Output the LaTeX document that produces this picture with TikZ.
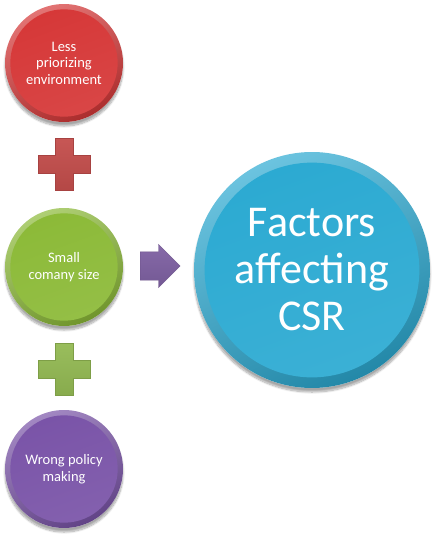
\documentclass[tikz,border=0pt]{standalone}
\usepackage{fontspec}
\setmainfont{Carlito}
\usetikzlibrary{shapes.arrows,shadows.blur}
\definecolor{cred}{RGB}{214,56,56}
\definecolor{cgreen}{RGB}{140,186,56}
\definecolor{cpurple}{RGB}{122,84,168}
\definecolor{cblue}{RGB}{44,170,210}
\definecolor{plusred}{RGB}{196,78,76}
\definecolor{plusgreen}{RGB}{148,186,84}
\definecolor{arrowpurple}{RGB}{128,98,164}
\newcommand\drawbutton[6]{% name, position, radius, colour, text, font
  \path[fill=white,blur shadow={shadow xshift=0pt,shadow yshift=-4pt,shadow opacity=35,shadow blur steps=10}] (#2) circle (#3);
  \shade[top color=#4!70!white, bottom color=#4!80!black, shading angle=25] (#2) circle (#3);
  \shade[top color=#4, bottom color=#4!93!white, shading angle=20] (#2) circle (0.91*#3);
  \node[btext, minimum size=2*#3, font=#6] (#1) at (#2) {#5};
}
\begin{document}
\begin{tikzpicture}[x=1pt,y=-1pt,
  btext/.style={circle, inner sep=0pt, text=white, align=center},
  plusshape/.style={draw=#1!85!black, line width=0.4pt, top color=#1!95!white, bottom color=#1!92!black}]
\useasboundingbox (0,0) rectangle (437,542);
\drawbutton{less}{64,63}{59pt}{cred}{Less\\priorizing\\environment}{\fontsize{14.5}{16.5}\selectfont}
\drawbutton{small}{64,267}{59pt}{cgreen}{Small\\comany size}{\fontsize{14.5}{16.5}\selectfont}
\drawbutton{wrong}{64,469}{59pt}{cpurple}{Wrong policy\\making}{\fontsize{14.5}{16.5}\selectfont}
\drawbutton{csr}{312,270}{118pt}{cblue}{Factors\\affecting\\CSR}{\fontsize{44}{47}\selectfont}
% plus signs
\path[plusshape=plusred] (55,138) -- (73,138) -- (73,155) -- (90,155) -- (90,173) -- (73,173) -- (73,190) -- (55,190) -- (55,173) -- (38,173) -- (38,155) -- (55,155) -- cycle;
\path[plusshape=plusgreen] (55,343) -- (73,343) -- (73,360) -- (90,360) -- (90,378) -- (73,378) -- (73,395) -- (55,395) -- (55,378) -- (38,378) -- (38,360) -- (55,360) -- cycle;
% arrow
\node[single arrow, anchor=west, draw=arrowpurple!85!black, line width=0.4pt, top color=arrowpurple!95!white, bottom color=arrowpurple!90!black,
  inner xsep=0pt, inner ysep=14pt, minimum height=40pt, single arrow head extend=7.5pt] (arr) at (140,266) {};
\end{tikzpicture}
\end{document}
